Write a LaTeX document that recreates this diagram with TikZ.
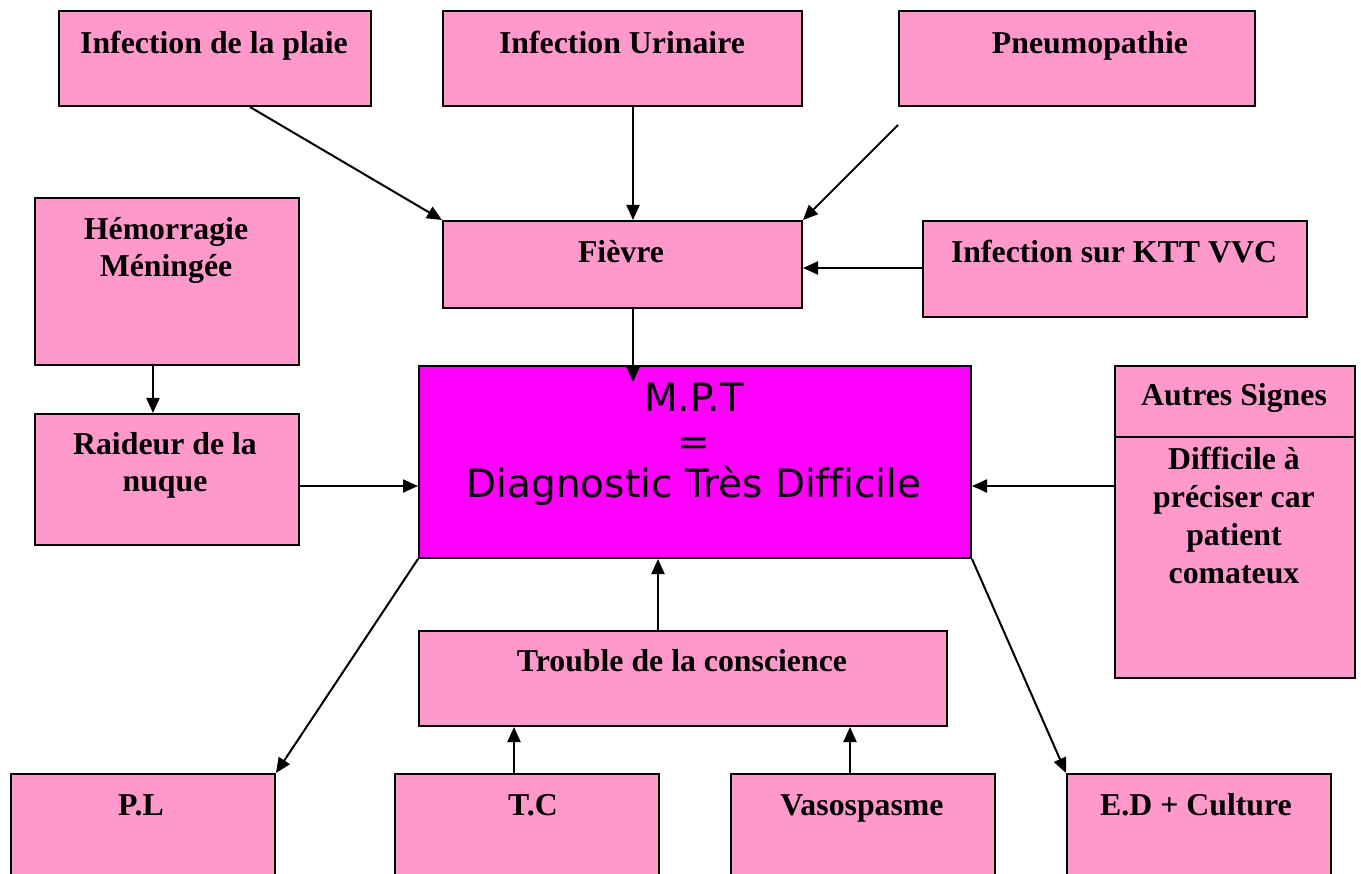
\documentclass[tikz,border=0pt]{standalone}
\usepackage{fontspec}
\setmainfont{Liberation Serif}
\newfontfamily\grandfont[Ligatures=NoCommon]{DejaVu Sans}
\usetikzlibrary{positioning, arrows.meta}
\definecolor{rose}{HTML}{FF99CC}
\definecolor{violet}{HTML}{FF00FF}

\tikzset{
  boite/.style={draw, line width=2pt, fill=rose, inner sep=0pt, anchor=north west},
  titre/.style={font=\fontsize{31.8}{37.7}\selectfont\bfseries, align=center, inner sep=0pt, anchor=base},
  fleche/.style={-{Triangle[length=15pt,width=13pt]}, line width=2pt},
}

\begin{document}
\begin{tikzpicture}[x=1pt,y=-1pt]
\useasboundingbox (0,0) rectangle (1361,874);

% draw the boxes
\foreach \nom/\x/\y/\w/\h in {plaie/58/10/312/95, urinaire/442/10/359/95,
    pneumo/898/10/356/95, hemo/34/197/264/167, fievre/442/220/359/87,
    ktt/922/220/384/96, raideur/34/413/264/131, autres/1114/365/240/312,
    trouble/418/630/528/95, pl/10/773/264/110, tc/394/773/264/110,
    vaso/730/773/264/110, ed/1066/773/264/110}
\node[boite, minimum width=\w pt, minimum height=\h pt] (\nom) at (\x,\y) {};

\node[boite, fill=violet, minimum width=552pt, minimum height=192pt] (mpt) at (418,365) {};
\draw[line width=2pt] (autres.west |- 0,437) -- (autres.east |- 0,437);

% texts (multi-line texts sit on their last baseline)
\node[titre] (t-plaie) at (214,54) {Infection de la plaie};
\node[titre] (t-urinaire) at (622,54) {Infection Urinaire};
\node[titre] (t-pneumo) at (1090,54) {Pneumopathie};
\node[titre] (t-hemo) at (166,277) {Hémorragie\\Méningée};
\node[titre] (t-fievre) at (621,263) {Fièvre};
\node[titre] (t-ktt) at (1114,263) {Infection sur KTT VVC};
\node[titre] (t-raideur) at (165,492) {Raideur de la\\nuque};
\node[titre] (t-autres) at (1234,406) {Autres Signes};
\node[titre] (t-difficile) at (1234,583) {Difficile à\\préciser car\\patient\\comateux};
\node[titre] (t-trouble) at (682,671) {Trouble de la conscience};
\node[titre] (t-pl) at (141,815) {P.L};
\node[titre] (t-tc) at (533,815) {T.C};
\node[titre] (t-vaso) at (862,815) {Vasospasme};
\node[titre] (t-ed) at (1196,815) {E.D + Culture};
\node[font=\grandfont\fontsize{39}{43}\selectfont, align=center, inner sep=0pt,
    anchor=base] (t-mpt) at (694,498) {M.P.T\\=\\Diagnostic Très Difficile};

% arrows
\coordinate (depart-pneumo) at (898,125);
\coordinate (fin-fievre) at (633,382);
\draw[fleche] (250,0 |- plaie.south) -- (fievre.north west);
\draw[fleche] (633,0 |- urinaire.south) -- (633,0 |- fievre.north);
\draw[fleche] (depart-pneumo) -- (fievre.north east);
\draw[fleche] (ktt.west |- 0,268) -- (fievre.east |- 0,268);
\draw[fleche] (633,0 |- fievre.south) -- (fin-fievre);
\draw[fleche] (153,0 |- hemo.south) -- (153,0 |- raideur.north);
\draw[fleche] (raideur.east |- 0,486) -- (mpt.west |- 0,486);
\draw[fleche] (autres.west |- 0,486) -- (mpt.east |- 0,486);
\draw[fleche] (658,0 |- trouble.north) -- (658,0 |- mpt.south);
\draw[fleche] (mpt.south west) -- (pl.north east);
\draw[fleche] (mpt.south east) -- (ed.north west);
\draw[fleche] (514,0 |- tc.north) -- (514,0 |- trouble.south);
\draw[fleche] (850,0 |- vaso.north) -- (850,0 |- trouble.south);
\end{tikzpicture}
\end{document}
